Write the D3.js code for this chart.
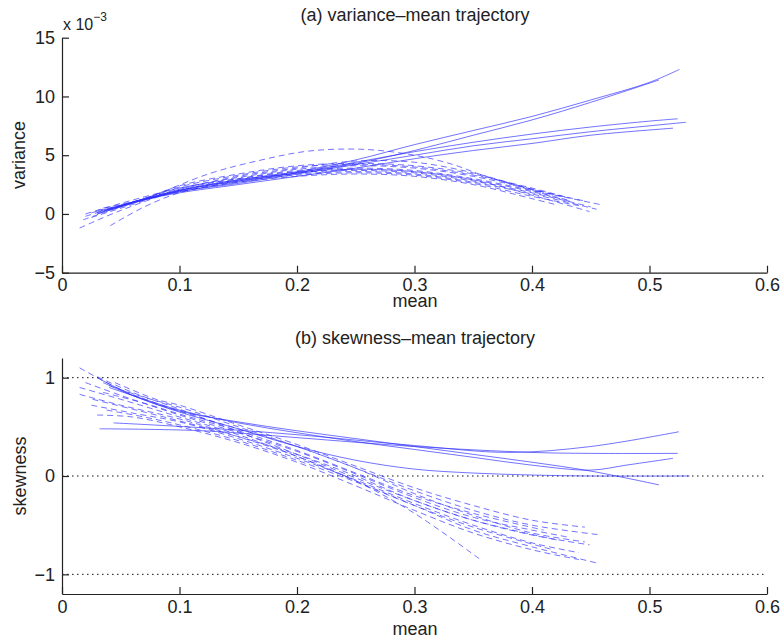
<!DOCTYPE html>
<html lang="en">
<head>
    <meta charset="UTF-8">
    <title>Variance-mean and skewness-mean trajectories</title>
    <script src="https://d3js.org/d3.v7.min.js"></script>
    <style>
        body { margin: 0; background: #fff; }
        text { font-family: "Liberation Sans", Arial, Helvetica, sans-serif; fill: #222; }
    </style>
</head>
<body>
    <script>
        //Tick values
        var meanTicks = [0, 0.1, 0.2, 0.3, 0.4, 0.5, 0.6];
        var varianceTicks = [-5, 0, 5, 10, 15];   // x 10^-3
        var skewTicks = [-1, 0, 1];

        //(a) variance-mean trajectories, [mean, variance x 10^-3]
        var varSolid = [
            [[0.03,0.0],[0.06,1.0],[0.1,2.0],[0.15,2.9],[0.2,3.6],[0.25,4.6],[0.3,5.9],[0.35,7.1],[0.4,8.3],[0.45,9.7],[0.5,11.2],[0.5255,12.3]],
            [[0.035,0.2],[0.06,1.0],[0.1,2.0],[0.15,2.8],[0.2,3.5],[0.25,4.3],[0.3,5.4],[0.35,6.7],[0.4,8.0],[0.45,9.5],[0.508,11.4]],
            [[0.03,0.1],[0.06,1.0],[0.1,1.9],[0.15,2.7],[0.2,3.5],[0.25,4.4],[0.3,5.3],[0.35,6.1],[0.4,6.8],[0.45,7.4],[0.5,7.9],[0.524,8.1]],
            [[0.04,0.3],[0.07,1.2],[0.1,1.9],[0.15,2.6],[0.2,3.4],[0.25,4.2],[0.3,5.0],[0.35,5.8],[0.4,6.4],[0.45,7.0],[0.5,7.5],[0.531,7.8]],
            [[0.045,0.5],[0.07,1.2],[0.1,1.8],[0.15,2.5],[0.2,3.2],[0.25,3.9],[0.3,4.7],[0.35,5.4],[0.4,6.0],[0.45,6.7],[0.52,7.3]]
        ];
        var varDashed = [
            [[0.015,-1.2],[0.05,0.3],[0.1,2.0],[0.15,2.9],[0.2,3.5],[0.25,3.7],[0.3,3.5],[0.35,2.8],[0.4,1.8],[0.45,0.6]],
            [[0.018,-0.5],[0.05,0.6],[0.1,2.1],[0.15,3.0],[0.2,3.7],[0.25,3.9],[0.3,3.7],[0.35,3.0],[0.4,2.0],[0.458,0.8]],
            [[0.02,0.0],[0.05,0.9],[0.1,2.2],[0.15,3.1],[0.2,3.8],[0.25,4.1],[0.3,3.9],[0.35,3.2],[0.425,1.5]],
            [[0.041,-1.0],[0.07,0.6],[0.1,1.8],[0.15,2.8],[0.2,3.5],[0.25,3.8],[0.3,3.6],[0.35,2.9],[0.4,1.6],[0.449,0.2]],
            [[0.03,0.2],[0.07,1.3],[0.126,3.45],[0.17,4.6],[0.21,5.35],[0.256,5.5],[0.3,5.0],[0.333,4.2],[0.355,3.4],[0.4,2.0],[0.43,1.2]],
            [[0.025,-0.3],[0.06,0.8],[0.1,2.0],[0.15,2.8],[0.2,3.3],[0.25,3.5],[0.3,3.3],[0.35,2.6],[0.4,1.5],[0.44,0.7]],
            [[0.03,0.3],[0.06,1.0],[0.1,2.3],[0.15,3.3],[0.2,4.0],[0.25,4.2],[0.3,4.0],[0.35,3.3],[0.4,2.2],[0.43,1.4]],
            [[0.035,0.5],[0.07,1.3],[0.1,2.4],[0.15,3.4],[0.2,4.1],[0.25,4.3],[0.3,4.1],[0.35,3.4],[0.41,1.8]],
            [[0.02,-0.2],[0.05,0.7],[0.1,1.9],[0.15,2.7],[0.2,3.2],[0.25,3.4],[0.3,3.2],[0.35,2.5],[0.4,1.3],[0.42,0.8]],
            [[0.03,0.0],[0.06,0.9],[0.1,2.1],[0.15,3.2],[0.2,3.9],[0.25,4.5],[0.3,4.4],[0.35,3.5],[0.4,2.1],[0.445,1.1]],
            [[0.025,0.1],[0.06,1.0],[0.1,2.2],[0.15,3.0],[0.2,3.6],[0.25,3.8],[0.3,3.6],[0.35,2.9],[0.4,1.9],[0.435,1.0]],
            [[0.04,0.4],[0.07,1.2],[0.1,2.0],[0.15,2.9],[0.2,3.4],[0.25,3.6],[0.3,3.4],[0.35,2.7],[0.4,1.7],[0.455,0.4]]
        ];

        //(b) skewness-mean trajectories, [mean, skewness]
        var skewSolid = [
            [[0.032,0.48],[0.12,0.46],[0.2,0.39],[0.3,0.3],[0.4,0.24],[0.45,0.23],[0.524,0.23]],
            [[0.044,0.54],[0.12,0.49],[0.2,0.42],[0.3,0.31],[0.38,0.24],[0.45,0.3],[0.525,0.45]],
            [[0.03,1.0],[0.06,0.82],[0.1,0.65],[0.15,0.48],[0.2,0.3],[0.25,0.16],[0.3,0.07],[0.35,0.03],[0.4,0.01],[0.45,0.0],[0.534,0.0]],
            [[0.035,0.95],[0.06,0.82],[0.1,0.66],[0.15,0.55],[0.2,0.46],[0.25,0.38],[0.3,0.3],[0.35,0.22],[0.4,0.14],[0.45,0.05],[0.508,-0.09]],
            [[0.04,0.9],[0.07,0.78],[0.1,0.67],[0.15,0.54],[0.2,0.44],[0.25,0.35],[0.3,0.27],[0.35,0.19],[0.4,0.11],[0.45,0.06],[0.48,0.11],[0.52,0.18]]
        ];
        var skewDashed = [
            [[0.015,1.1],[0.05,0.88],[0.1,0.66],[0.15,0.48],[0.2,0.3],[0.25,0.08],[0.3,-0.15],[0.35,-0.35],[0.4,-0.5],[0.459,-0.6]],
            [[0.03,1.01],[0.06,0.85],[0.1,0.68],[0.15,0.45],[0.2,0.22],[0.25,-0.02],[0.3,-0.25],[0.35,-0.45],[0.4,-0.6],[0.449,-0.7]],
            [[0.015,0.9],[0.05,0.78],[0.1,0.6],[0.15,0.42],[0.2,0.2],[0.25,-0.05],[0.3,-0.3],[0.35,-0.55],[0.4,-0.72],[0.457,-0.89]],
            [[0.015,0.83],[0.05,0.72],[0.1,0.58],[0.15,0.4],[0.2,0.2],[0.25,-0.05],[0.3,-0.38],[0.355,-0.84]],
            [[0.026,0.78],[0.06,0.68],[0.1,0.56],[0.15,0.4],[0.2,0.22],[0.25,0.0],[0.3,-0.25],[0.35,-0.45],[0.421,-0.65]],
            [[0.038,0.67],[0.07,0.6],[0.1,0.52],[0.15,0.36],[0.2,0.16],[0.25,-0.06],[0.3,-0.3],[0.35,-0.52],[0.418,-0.75]],
            [[0.02,0.95],[0.05,0.82],[0.1,0.62],[0.15,0.44],[0.2,0.25],[0.25,0.02],[0.3,-0.22],[0.35,-0.42],[0.4,-0.55],[0.43,-0.62]],
            [[0.04,0.92],[0.07,0.8],[0.1,0.7],[0.15,0.5],[0.2,0.3],[0.25,0.08],[0.3,-0.18],[0.35,-0.4],[0.4,-0.58],[0.445,-0.67]],
            [[0.025,0.72],[0.06,0.64],[0.1,0.55],[0.15,0.38],[0.2,0.18],[0.25,-0.04],[0.3,-0.28],[0.35,-0.5],[0.4,-0.68],[0.44,-0.78]],
            [[0.035,0.85],[0.07,0.74],[0.1,0.63],[0.15,0.46],[0.2,0.26],[0.25,0.03],[0.3,-0.2],[0.35,-0.38],[0.41,-0.55]],
            [[0.03,0.62],[0.06,0.6],[0.1,0.5],[0.15,0.34],[0.2,0.14],[0.25,-0.1],[0.3,-0.35],[0.35,-0.58],[0.4,-0.75],[0.44,-0.85]],
            [[0.045,0.95],[0.08,0.78],[0.1,0.72],[0.15,0.52],[0.2,0.32],[0.25,0.1],[0.3,-0.12],[0.35,-0.3],[0.4,-0.45],[0.445,-0.52]]
        ];

        //SVG dimensions
        var w = 780;
        var h = 638;
        var lineColor = "#2e2eff";

        var svg = d3.select("body")
            .append("svg")
            .attr("width", w)
            .attr("height", h);

        //Shared x-scale for both panels
        var xScale = d3.scaleLinear()
            .domain([0, 0.6])
            .range([62, 767]);

        //Plain tick labels: 0, 0.1, -1 ...
        var tickFmt = d3.format("~g");

        //Draws one panel: axes, optional gridlines, trajectories
        function drawPanel(yScale, yTicks, solid, dashed, grid) {
            var g = svg.append("g");

            if (grid) {
                g.selectAll(".grid")
                    .data(yTicks)
                    .enter()
                    .append("line")
                    .attr("x1", xScale.range()[0])
                    .attr("x2", xScale.range()[1])
                    .attr("y1", function(d) { return yScale(d); })
                    .attr("y2", function(d) { return yScale(d); })
                    .attr("stroke", "#111")
                    .attr("stroke-width", 1)
                    .attr("stroke-dasharray", "1.5,3.5");
            }

            var line = d3.line()
                .x(function(d) { return xScale(d[0]); })
                .y(function(d) { return yScale(d[1]); })
                .curve(d3.curveCatmullRom.alpha(0.5));

            g.selectAll(".dashed")
                .data(dashed)
                .enter()
                .append("path")
                .attr("d", line)
                .attr("fill", "none")
                .attr("stroke", lineColor)
                .attr("stroke-opacity", 0.75)
                .attr("stroke-width", 0.9)
                .attr("stroke-dasharray", "6,4");

            g.selectAll(".solid")
                .data(solid)
                .enter()
                .append("path")
                .attr("d", line)
                .attr("fill", "none")
                .attr("stroke", lineColor)
                .attr("stroke-opacity", 0.75)
                .attr("stroke-width", 0.9);

            var y0 = yScale.range()[0];

            var xAxis = g.append("g")
                .attr("transform", "translate(0," + y0 + ")")
                .call(d3.axisBottom(xScale).tickValues(meanTicks).tickFormat(tickFmt)
                    .tickSizeInner(-7).tickSizeOuter(0).tickPadding(6));

            var yAxis = g.append("g")
                .attr("transform", "translate(" + xScale.range()[0] + ",0)")
                .call(d3.axisLeft(yScale).tickValues(yTicks).tickFormat(tickFmt)
                    .tickSizeInner(-7).tickSizeOuter(0).tickPadding(7));

            [xAxis, yAxis].forEach(function(a) {
                a.select(".domain").attr("stroke", "#222").attr("stroke-width", 1.2);
                a.selectAll(".tick line").attr("stroke", "#222").attr("stroke-width", 1.2);
                a.selectAll(".tick text")
                    .style("font-family", "'Liberation Sans', Arial, sans-serif")
                    .style("font-size", "18px")
                    .attr("fill", "#222");
            });
            return g;
        }

        //(a) variance-mean panel
        var yVar = d3.scaleLinear()
            .domain([-5, 15])
            .range([272.7, 37.7]);
        drawPanel(yVar, varianceTicks, varSolid, varDashed, false);

        //(b) skewness-mean panel
        var ySkew = d3.scaleLinear()
            .domain([-1.2, 1.2])
            .range([594, 358]);
        drawPanel(ySkew, skewTicks, skewSolid, skewDashed, true);

        //Titles and labels
        svg.append("text")
            .attr("x", 415).attr("y", 21)
            .attr("text-anchor", "middle")
            .style("font-size", "18px")
            .text("(a) variance\u2013mean trajectory");

        svg.append("text")
            .attr("x", 415).attr("y", 344)
            .attr("text-anchor", "middle")
            .style("font-size", "18px")
            .text("(b) skewness\u2013mean trajectory");

        svg.append("text")
            .attr("x", 415).attr("y", 307)
            .attr("text-anchor", "middle")
            .style("font-size", "18px")
            .text("mean");

        svg.append("text")
            .attr("x", 415).attr("y", 635)
            .attr("text-anchor", "middle")
            .style("font-size", "18px")
            .text("mean");

        svg.append("text")
            .attr("transform", "translate(25,155) rotate(-90)")
            .attr("text-anchor", "middle")
            .style("font-size", "18px")
            .text("variance");

        svg.append("text")
            .attr("transform", "translate(26,476) rotate(-90)")
            .attr("text-anchor", "middle")
            .style("font-size", "18px")
            .text("skewness");

        //Exponent label for the variance axis
        var expo = svg.append("text")
            .attr("x", 63).attr("y", 30)
            .style("font-size", "16px");
        expo.append("tspan").text("x 10");
        expo.append("tspan")
            .attr("dy", -9)
            .style("font-size", "12px")
            .text("\u22123");
    </script>
</body>
</html>
